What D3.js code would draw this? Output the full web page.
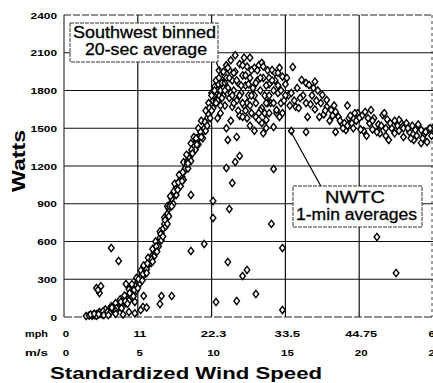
<!DOCTYPE html>
<html><head><meta charset="utf-8">
<script src="https://cdn.jsdelivr.net/npm/d3@7"></script>
<style>
html,body{margin:0;padding:0;background:#fff;}
svg{display:block;font-family:"Liberation Sans",Arial,Helvetica,sans-serif;}
</style></head>
<body><svg id="c" width="433" height="383"></svg>
<script>
// Y ticks (Watts)
const wattTicks = [0,300,600,900,1200,1500,1800,2100,2400];
// X ticks: m/s and the matching mph labels
const msTicks = [0,5,10,15,20,25];
const mphLabels = ["0","11","22.3","33.5","44.75","60"];

// Southwest binned 20-sec average (m/s, W)
const swSpeed = [1.5,1.7,1.9,2.0,2.1,2.2,2.3,2.4,2.5,2.6,2.7,2.8,2.9,3.0,3.1,3.2,3.3,3.4,3.5,3.6,3.7,3.8,3.9,4.0,4.1,4.2,4.3,4.4,4.5,4.6,4.7,4.8,4.9,5.0,5.1,5.2,5.3,5.4,5.5,5.6,5.7,5.8,5.9,6.0,6.1,6.2,6.3,6.4,6.5,6.6,6.7,6.8,6.9,7.0,7.1,7.2,7.3,7.4,7.5,7.6,7.7,7.8,7.9,8.0,8.1,8.2,8.3,8.4,8.5,8.6,8.7,8.8,8.9,9.0,9.1,9.2,9.3,9.4,9.5,9.6,9.7,9.8,9.9,10.0,10.1,10.2,10.3,10.4,10.5,10.6,
 2.2,2.6,3.0,3.4,3.6,3.9,4.2,4.4,4.6,4.9,5.1,5.4,5.6,5.9,6.1,6.4,6.6,6.9,7.1,7.4,7.6,7.9,8.1,8.4,8.6,8.9,9.1,9.4,9.6,9.9,10.1,10.3,
 1.8,2.4,2.8,3.2,3.5,3.8,4.1,4.4,4.6,4.9,5.2,5.4,5.7,6.0,6.2,6.5,6.8,7.0,7.2,7.5,7.8,8.1,8.3,8.6,8.8,9.1,9.3,9.6,9.8,10.0,10.2,
 2.05,2.35,2.65,2.95,3.25,3.55,3.85,4.15,4.45,4.75,5.05,5.35,5.65,5.95,6.25,6.55,6.85,7.15,7.45,7.75,8.05,8.35,8.65,8.95,9.25,9.55,9.85,10.15,10.45,
 2.7,3.1,3.5,3.9,4.3,4.7,5.0,5.3,5.6,6.0,6.3,6.7,7.0,7.3,7.7,8.0,8.4,8.7,9.0,9.3,9.7,10.0,
 10.0,10.2,10.3,10.4,10.5,10.6,10.7,10.8,10.8,10.9,11.0,11.0,11.1,11.2,11.2,11.3,11.4,11.4,11.5,11.6,11.6,11.7,11.8,11.9,11.9,12.0,12.1,12.2,12.2,12.3,12.4,12.4,12.5,12.6,12.6,12.7,12.8,12.9,13.0,13.0,13.1,13.2,13.3,13.4,13.4,13.5,13.6,13.7,13.8,13.9,14.0,14.1,14.2,14.3,14.4,14.6,14.8,15.2,15.6,15.3,
 10.3,10.5,10.7,10.9,11.1,11.3,11.5,11.7,11.9,12.1,12.3,12.5,12.7,12.9,13.1,13.3,13.5,13.7,13.9,14.1,14.3,14.5,14.7,10.6,10.9,11.2,11.5,11.8,12.1,12.4,12.7,13.0,13.3,13.6,13.9,14.2,14.5,14.8,11.4,12.0,12.6,13.2,13.8,14.4,15.0];
const swWatts = [8,12,10,18,14,22,20,28,25,35,30,42,38,50,58,52,70,65,85,78,100,95,118,112,135,128,160,150,185,175,220,240,255,280,300,320,345,360,385,400,420,445,470,490,520,545,575,600,630,665,700,740,780,820,860,900,940,975,1000,1030,1050,1070,1095,1115,1150,1180,1210,1245,1270,1300,1330,1360,1385,1400,1420,1440,1455,1470,1500,1540,1580,1610,1650,1690,1720,1750,1780,1810,1840,1860,
 10,20,35,50,60,90,110,130,160,210,260,330,380,430,480,560,610,720,800,900,970,1040,1090,1180,1240,1330,1370,1420,1480,1580,1660,1720,
 20,40,60,85,110,140,170,220,260,310,370,410,470,540,600,680,790,880,960,1060,1130,1230,1290,1380,1430,1500,1560,1640,1700,1780,1830,
 25,22,45,40,75,70,120,125,190,215,300,340,425,460,560,660,770,880,1000,1070,1150,1230,1330,1420,1470,1550,1660,1760,1850,
 15,28,48,70,105,165,230,290,350,440,520,640,740,880,1010,1080,1220,1300,1370,1430,1520,1640,
 1760,1800,1880,1720,1900,1800,1860,1950,1760,1680,1900,2000,1820,1740,1960,2040,1880,1670,1800,2080,1950,1720,1860,2010,1600,1780,1920,2060,1680,1840,1990,1700,1760,2060,1900,1620,1820,1980,1590,1700,1880,2000,1800,2020,1660,1900,1760,1566,1960,1850,1700,1963,1800,1880,1640,1980,1910,1760,1720,1680,
 1700,1960,1740,1860,1980,1780,1940,1880,1760,2000,1920,1850,1960,1760,1960,1900,1990,1840,1900,1880,1940,1780,1700,1680,1800,1900,1700,1640,1700,1580,1760,1860,1640,1620,1760,1700,1840,1620,1760,1840,1680,1620,1700,1620,1760];

// NWTC 1-min averages (m/s, W)
const nwtcSpeed = [3.2,3.7,2.2,2.4,2.3,2.5,4.2,5.4,5.35,6.6,7.3,6.5,8.6,9.5,8.6,4.8,10.1,10.1,11.2,14.05,11.1,12.1,12.4,13.0,10.3,11.7,14.8,14.8,21.2,22.5,11.1,11.7,11.9,11.6,11.0,11.4,14.2,15.4,16.4,13.4,13.7,
 15.5,15.4,15.7,15.9,16.4,16.1,16.4,16.6,17.0,16.5,17.5,17.4,17.8,17.3,17.8,18.1,18.4,18.6,18.4,18.8,19.1,19.3,19.5,19.9,20.2,
 19.7,20.0,20.4,20.8,21.6,20.7,20.9,21.4,21.8,22.0,22.2,22.8,23.0,23.4,23.8,24.2,24.7,23.7,24.2,24.6,19.2,19.6,21.0,21.3,21.9,22.4,22.6,23.2,23.5,24.0,24.4,24.9,25.0,20.5,19.0,18.0,17.0,16.8,17.2,21.7,22.7,
 12.1,13.2,14.4,14.6,13.7,12.6,11.3,10.6,12.9,14.9,14.7,15.1,14.5,15.0,13.9,12.3,11.0,10.4,14.2,13.5,
 15.8,16.2,16.7,17.1,17.6,18.2,18.7,19.2,19.8,20.3,20.9,21.5,22.1,22.7,23.3,23.9,24.5,16.0,16.9,17.7,18.3,18.9,19.4,20.1,20.6,21.2,21.8,22.4,23.0,23.6,24.3,24.8,
 3.0,3.5,4.0,4.4,4.8,5.2,5.6];
const nwtcWatts = [548,445,230,190,215,245,262,167,80,167,167,103,525,580,970,120,922,787,858,740,437,326,374,183,119,127,548,56,636,350,1407,1431,1280,1232,1184,1065,1176,1478,1470,1542,1502,
 1987,1780,1670,1660,1700,1884,1860,1844,1870,1590,1765,1700,1725,1590,1670,1645,1630,1590,1470,1540,1486,1580,1540,1620,1600,
 1620,1580,1630,1645,1605,1540,1490,1460,1500,1407,1500,1550,1500,1470,1486,1486,1490,1407,1383,1391,1680,1500,1580,1530,1570,1460,1520,1540,1420,1530,1450,1440,1500,1440,1540,1560,1650,1760,1800,1620,1566,
 1590,1566,1645,1590,1700,1520,1560,1620,1480,1720,1800,1900,1940,1850,1620,1640,1500,1580,1510,1460,
 1820,1760,1690,1720,1610,1600,1560,1520,1560,1480,1560,1520,1540,1480,1500,1440,1470,1740,1820,1640,1680,1500,1600,1490,1580,1470,1440,1560,1430,1520,1420,1500,
 15,25,20,40,30,55,75];

const svg = d3.select("#c");
const x = d3.scaleLinear().domain([0,25]).range([64,433]);
const y = d3.scaleLinear().domain([0,2400]).range([317,15]);

// grid
const g = svg.append("g");
g.selectAll("line.h").data(wattTicks.slice(1,-1)).join("line")
  .attr("x1",64).attr("x2",433).attr("y1",d=>y(d)).attr("y2",d=>y(d))
  .attr("stroke","#111").attr("stroke-width",1.2);
g.selectAll("line.v").data(msTicks.slice(1,-1)).join("line")
  .attr("x1",d=>x(d)).attr("x2",d=>x(d)).attr("y1",y(2400)).attr("y2",y(0))
  .attr("stroke","#111").attr("stroke-width",1.2);
// frame
g.append("line").attr("x1",64).attr("x2",433).attr("y1",y(2400)).attr("y2",y(2400)).attr("stroke","#222").attr("stroke-dasharray","7,2").attr("stroke-width",1.1);
g.append("line").attr("x1",64).attr("x2",433).attr("y1",y(0)).attr("y2",y(0)).attr("stroke","#222").attr("stroke-dasharray","8,2").attr("stroke-width",1.2);
g.append("line").attr("x1",64).attr("x2",64).attr("y1",y(2400)).attr("y2",y(0)).attr("stroke","#222").attr("stroke-width",1.1);
g.append("line").attr("x1",432).attr("x2",432).attr("y1",y(2400)).attr("y2",y(0)).attr("stroke","#444").attr("stroke-dasharray","3,3").attr("stroke-width",1);

// y tick labels
svg.append("g").selectAll("text").data(wattTicks).join("text")
  .attr("x",57).attr("y",d=>y(d)+3.5).attr("text-anchor","end")
  .attr("font-size",9).attr("font-weight","bold")
  .attr("textLength",d=>String(d).length*6.6).attr("lengthAdjust","spacingAndGlyphs")
  .text(d=>d);

// x tick labels
const xl = svg.append("g").attr("font-size",9).attr("font-weight","bold");
xl.selectAll("text.mph").data(msTicks).join("text")
  .attr("x",(d,i)=>x(d)+2).attr("y",337).attr("text-anchor","middle")
  .attr("textLength",(d,i)=>mphLabels[i].length*6.4).attr("lengthAdjust","spacingAndGlyphs")
  .text((d,i)=>mphLabels[i]);
xl.selectAll("text.ms").data(msTicks).join("text")
  .attr("x",d=>x(d)+2).attr("y",356).attr("text-anchor","middle")
  .attr("textLength",d=>String(d).length*6.4).attr("lengthAdjust","spacingAndGlyphs")
  .text(d=>d);
xl.append("text").attr("x",25).attr("y",337).attr("textLength",23).attr("lengthAdjust","spacingAndGlyphs").text("mph");
xl.append("text").attr("x",25).attr("y",356).attr("textLength",23).attr("lengthAdjust","spacingAndGlyphs").text("m/s");

// axis titles
svg.append("text").attr("x",50).attr("y",379).attr("font-size",17).attr("font-weight","bold")
  .attr("textLength",272).attr("lengthAdjust","spacingAndGlyphs").text("Standardized Wind Speed");
svg.append("text").attr("transform","translate(25,192) rotate(-90)").attr("font-size",19).attr("font-weight","bold")
  .attr("textLength",62).attr("lengthAdjust","spacingAndGlyphs").text("Watts");

// points
const diamond = "M0,-3.6L2.8,0L0,3.6L-2.8,0Z";
const pts = [];
swSpeed.forEach((s,i)=>pts.push([s,swWatts[i]]));
nwtcSpeed.forEach((s,i)=>pts.push([s,nwtcWatts[i]]));
svg.append("g").selectAll("path").data(pts).join("path")
  .attr("d",diamond).attr("transform",d=>`translate(${x(d[0])},${y(d[1])})`)
  .attr("fill","#fff").attr("stroke","#000").attr("stroke-width",1.4);

// annotations
const ann = svg.append("g");
ann.append("line").attr("x1",208).attr("y1",43).attr("x2",227).attr("y2",87).attr("stroke","#000").attr("stroke-width",1.2);
ann.append("rect").attr("x",70).attr("y",23).attr("width",148).attr("height",39)
  .attr("fill","#fff").attr("stroke","#333").attr("stroke-width",1).attr("stroke-dasharray","4,1");
ann.append("text").attr("x",73).attr("y",38).attr("font-size",16).attr("stroke","#000").attr("stroke-width",0.3).attr("textLength",143).attr("lengthAdjust","spacingAndGlyphs").text("Southwest binned");
ann.append("text").attr("x",85).attr("y",55).attr("font-size",16).attr("stroke","#000").attr("stroke-width",0.3).attr("textLength",122).attr("lengthAdjust","spacingAndGlyphs").text("20-sec average");

ann.append("line").attr("x1",291).attr("y1",132).attr("x2",323).attr("y2",190).attr("stroke","#000").attr("stroke-width",1.2);
ann.append("rect").attr("x",293).attr("y",186).attr("width",129).attr("height",41)
  .attr("fill","#fff").attr("stroke","#333").attr("stroke-width",1).attr("stroke-dasharray","4,1");
ann.append("text").attr("x",325).attr("y",203).attr("font-size",16).attr("stroke","#000").attr("stroke-width",0.3).attr("textLength",60).attr("lengthAdjust","spacingAndGlyphs").text("NWTC");
ann.append("text").attr("x",296).attr("y",220).attr("font-size",16).attr("stroke","#000").attr("stroke-width",0.3).attr("textLength",121).attr("lengthAdjust","spacingAndGlyphs").text("1-min averages");
</script></body></html>
